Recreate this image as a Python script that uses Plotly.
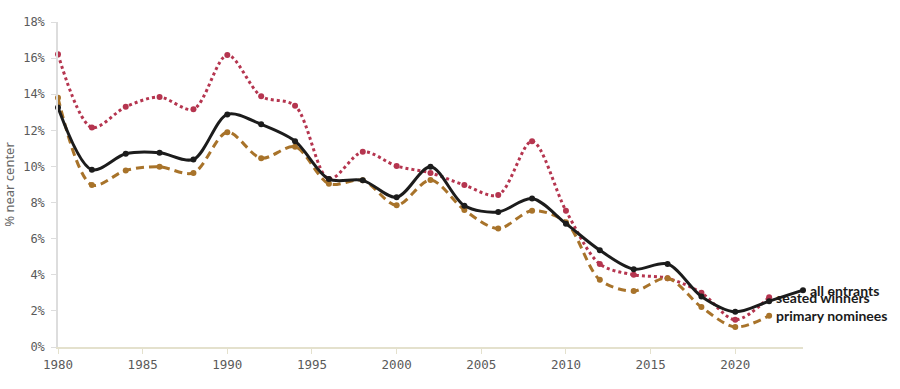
import plotly.graph_objects as go

years_all = [1980, 1982, 1984, 1986, 1988, 1990, 1992, 1994, 1996, 1998, 2000, 2002,
             2004, 2006, 2008, 2010, 2012, 2014, 2016, 2018, 2020, 2022, 2024]
years_sub = years_all[:-1]

all_entrants = [13.27, 9.82, 10.70, 10.76, 10.39, 12.88, 12.33, 11.40, 9.30, 9.23, 8.29, 9.98,
                7.83, 7.48, 8.22, 6.83, 5.36, 4.31, 4.60, 2.80, 1.95, 2.54, 3.15]
seated_winners = [16.21, 12.16, 13.30, 13.84, 13.17, 16.17, 13.89, 13.36, 9.30, 10.81, 10.02, 9.64,
                  8.97, 8.42, 11.39, 7.55, 4.60, 4.00, 3.81, 3.00, 1.51, 2.76]
primary_nominees = [13.80, 8.97, 9.78, 9.98, 9.64, 11.90, 10.46, 11.09, 9.04, 9.23, 7.85, 9.25,
                    7.59, 6.56, 7.55, 6.91, 3.72, 3.10, 3.81, 2.21, 1.11, 1.73]

y_ticks = [0, 2, 4, 6, 8, 10, 12, 14, 16, 18]
y_tick_text = [f"{v}%" for v in y_ticks]
x_ticks = [1980, 1985, 1990, 1995, 2000, 2005, 2010, 2015, 2020]

series = [
    ("seated winners", years_sub, seated_winners, "#b5354f", "dot"),
    ("primary nominees", years_sub, primary_nominees, "#a8732a", "8px,5px"),
    ("all entrants", years_all, all_entrants, "#1c1c1c", "solid"),
]

fig = go.Figure()
for name, xs, ys, color, dash in series:
    fig.add_trace(go.Scatter(
        x=xs, y=ys, mode="lines+markers", name=name,
        line=dict(color=color, width=3, dash=dash, shape="spline", smoothing=0.9),
        marker=dict(color=color, size=6),
        cliponaxis=False, showlegend=False,
    ))
    fig.add_annotation(
        x=xs[-1], y=ys[-1], text=name, showarrow=False,
        xanchor="left", yanchor="middle", xshift=5,
        font=dict(family="Lato", size=14, color="#1a1a1a", weight="bold"),
    )

fig.update_layout(
    width=900, height=389,
    margin=dict(l=58, r=97, t=22, b=42),
    paper_bgcolor="white", plot_bgcolor="white",
    font=dict(family="DejaVu Sans Mono", size=12, color="#555"),
)
fig.update_xaxes(
    range=[1980, 2024], tickvals=x_ticks, showgrid=False, zeroline=False,
    showline=True, linecolor="#e4e1cd", linewidth=1.5, automargin=False,
    ticks="outside", ticklen=5, tickcolor="#e4e1cd",
    tickfont=dict(family="DejaVu Sans Mono", size=12.5, color="#5a5a5a"),
)
fig.update_yaxes(
    range=[0, 18], tickvals=y_ticks, ticktext=y_tick_text, showgrid=False, zeroline=False,
    showline=True, linecolor="#dddddd", linewidth=1.5, automargin=False,
    ticks="outside", ticklen=5, tickcolor="#dddddd", ticklabelstandoff=4,
    tickfont=dict(family="DejaVu Sans Mono", size=12, color="#5a5a5a"),
    title=dict(text="% near center", font=dict(family="Noto Sans", size=13, color="#666"), standoff=6),
)

fig.write_html("out.html")
